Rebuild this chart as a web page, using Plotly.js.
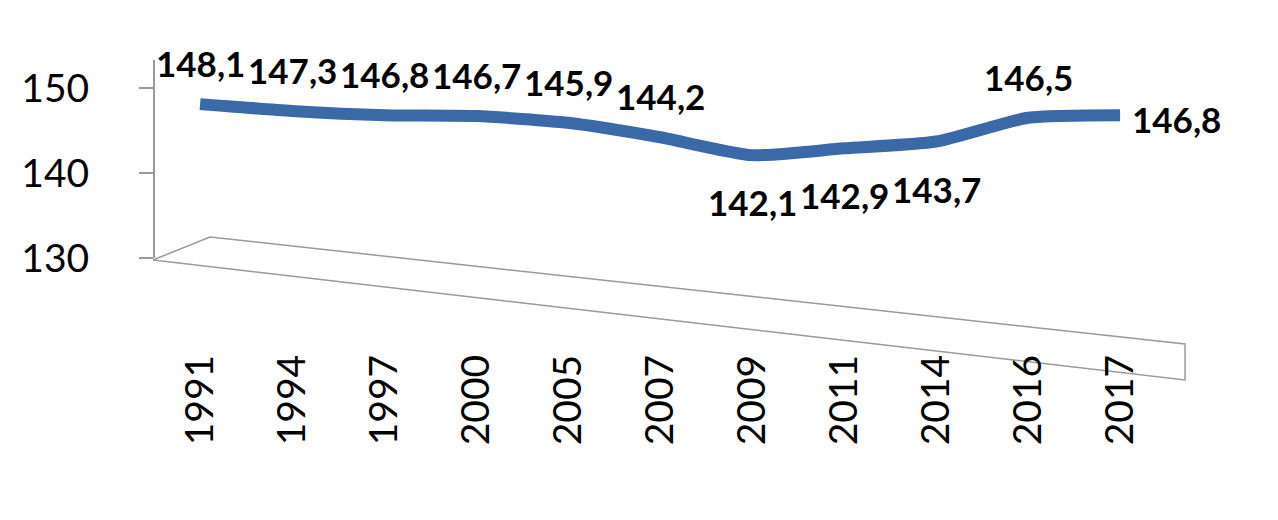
<!DOCTYPE html>
<html>
<head>
<meta charset="utf-8">
<script src="https://cdn.plot.ly/plotly-3.0.1.min.js"></script>
<style>
  html, body { margin: 0; padding: 0; background: #ffffff; }
  #chart { width: 1278px; height: 520px; }
</style>
</head>
<body>
<div id="chart"></div>
<script>
// Data
const years = ["1991", "1994", "1997", "2000", "2005", "2007", "2009", "2011", "2014", "2016", "2017"];
const population = [148.1, 147.3, 146.8, 146.7, 145.9, 144.2, 142.1, 142.9, 143.7, 146.5, 146.8];
const yTicks = [130, 140, 150];

// Label placement styles (above / below / right of the point)
const labelSide = ["above", "above", "above", "above", "above", "above",
                   "below", "below", "below", "above", "right"];

const fontFamily = "Lato, 'Open Sans', sans-serif";
const floorColor = "#9a9a9a";

const trace = {
  x: years,
  y: population,
  type: "scatter",
  mode: "lines",
  line: { color: "#3b68a6", width: 12, shape: "spline", smoothing: 0.6 },
  hoverinfo: "skip",
  showlegend: false
};

const annotations = years.map((yr, i) => {
  const side = labelSide[i];
  const a = {
    x: i, y: population[i], xref: "x", yref: "y",
    text: "<b>" + population[i].toFixed(1).replace(".", ",") + "</b>",
    showarrow: false,
    font: { family: fontFamily, size: 35, color: "#000000" }
  };
  if (side === "above") { a.yanchor = "bottom"; a.yshift = 18; a.xanchor = "center"; }
  else if (side === "below") { a.yanchor = "top"; a.yshift = -24; a.xanchor = "center"; }
  else { a.xanchor = "left"; a.yanchor = "middle"; a.xshift = 10; a.yshift = -4; }
  return a;
});

const layout = {
  width: 1278,
  height: 520,
  margin: { l: 155, r: 88, t: 60, b: 262 },
  paper_bgcolor: "#ffffff",
  plot_bgcolor: "rgba(0,0,0,0)",
  showlegend: false,
  xaxis: {
    type: "category",
    range: [-0.49, 10.76],
    showline: false,
    showgrid: false,
    zeroline: false,
    ticks: "",
    tickangle: -90,
    ticklabelstandoff: 88,
    tickfont: { family: fontFamily, size: 39, color: "#000000" }
  },
  yaxis: {
    range: [130, 153.29],
    tickvals: yTicks,
    ticktext: yTicks.map(String),
    showline: true,
    linecolor: floorColor,
    linewidth: 2,
    ticks: "outside",
    ticklen: 14,
    tickwidth: 2,
    tickcolor: floorColor,
    ticklabelstandoff: 42,
    showgrid: false,
    zeroline: false,
    tickfont: { family: fontFamily, size: 39, color: "#000000" }
  },
  annotations: annotations,
  shapes: [
    // 3D-style floor decoration (not data)
    {
      type: "path", xref: "paper", yref: "paper",
      path: "M -0.0019,-0.0101 L 0.0531,0.1061 L 0.9952,-0.4343 L 0.9952,-0.6162 Z",
      line: { color: floorColor, width: 1.5 },
      fillcolor: "rgba(0,0,0,0)",
      layer: "below"
    }
  ]
};

Plotly.newPlot("chart", [trace], layout, { staticPlot: true, displayModeBar: false });
</script>
</body>
</html>
